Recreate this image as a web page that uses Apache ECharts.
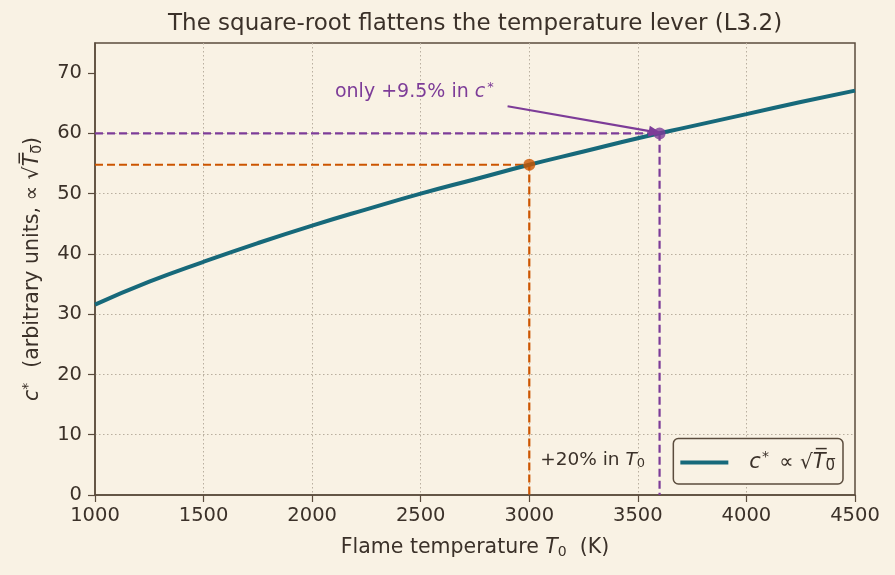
<!DOCTYPE html>
<html>
<head>
<meta charset="utf-8">
<script src="https://cdn.jsdelivr.net/npm/echarts@6/dist/echarts.min.js"></script>
<style>
  html, body { margin: 0; padding: 0; background: #f9f2e4; }
  #chart { width: 895px; height: 575px; }
</style>
</head>
<body>
<div id="chart"></div>
<script>
// values
const temps = [1000, 1250, 1500, 1750, 2000, 2250, 2500, 2750, 3000, 3250, 3500, 3750, 4000, 4250, 4500]
const cStar = [31.6, 35.4, 38.7, 41.8, 44.7, 47.4, 50.0, 52.4, 54.8, 57.0, 59.2, 61.2, 63.2, 65.2, 67.1]
const basePoint = [3000, 54.8]
const hotPoint = [3600, 60.0]
const xTicks = [1000, 1500, 2000, 2500, 3000, 3500, 4000, 4500]
const yTicks = [0, 10, 20, 30, 40, 50, 60, 70]
const arrowFrom = [2900, 64.5]
const arrowTo = [3580, 60.2]

const ink = '#3b3129'
const frame = '#5b4c3d'
const teal = '#17697a'
const orange = '#cc5500'
const purple = '#7d3c98'
const font = 'DejaVu Sans'

const chart = echarts.init(document.getElementById('chart'))

const option = {
  backgroundColor: '#f9f2e4',
  animation: false,
  textStyle: { fontFamily: font, color: ink },
  title: {
    text: 'The square-root flattens the temperature lever (L3.2)',
    left: 163,
    top: 8,
    textStyle: { fontFamily: font, fontSize: 23, fontWeight: 'normal', color: ink }
  },
  grid: {
    left: 95, right: 40, top: 43, bottom: 80,
    show: true, borderColor: frame, borderWidth: 1.5, backgroundColor: 'transparent'
  },
  legend: {
    data: ['curve'],
    right: 52,
    bottom: 91,
    orient: 'vertical',
    padding: [12, 8, 10, 7],
    borderColor: frame,
    borderWidth: 1.5,
    borderRadius: 5,
    backgroundColor: '#f9f2e4',
    itemWidth: 48,
    itemHeight: 4,
    itemGap: 0,
    icon: 'rect',
    formatter: () => '{i|c}{s|*} ∝ √{i|T̅}{b|0̅}',
    textStyle: {
      fontFamily: font,
      fontSize: 20,
      color: ink,
      padding: [0, 0, 0, 16],
      rich: {
        i: { fontStyle: 'italic', fontSize: 21, fontFamily: font, color: ink },
        s: { fontSize: 14, padding: [0, 4, 10, 1], fontFamily: font, color: ink },
        b: { fontSize: 15, padding: [8, 0, 0, 0], fontFamily: font, color: ink }
      }
    }
  },
  xAxis: {
    type: 'value',
    min: 1000,
    max: 4500,
    interval: 500,
    name: 'Flame temperature {i|T}{b|0}  (K)',
    nameLocation: 'middle',
    nameGap: 42,
    nameTextStyle: {
      fontSize: 20.5, color: ink, fontFamily: font,
      rich: {
        i: { fontStyle: 'italic', fontSize: 20.5, color: ink, fontFamily: font },
        b: { fontSize: 14, padding: [8, 0, 0, 0], color: ink, fontFamily: font }
      }
    },
    axisLine: { show: true, lineStyle: { color: frame, width: 1.5 } },
    axisTick: { show: true, length: 7, lineStyle: { color: frame, width: 1.2 }, customValues: xTicks },
    axisLabel: { fontSize: 19.5, color: ink, margin: 11, customValues: xTicks, formatter: v => String(v) },
    splitLine: { show: true, showMinLine: false, showMaxLine: false, lineStyle: { color: '#b9af9f', type: [1.5, 2.5], width: 1 } }
  },
  yAxis: {
    type: 'value',
    min: 0,
    max: 75,
    interval: 10,
    name: '{i|c}{s|*}  (arbitrary units, ∝ √{i|T̅}{b|0̅})',
    nameLocation: 'middle',
    nameRotate: 90,
    nameGap: 50,
    nameTextStyle: {
      fontSize: 20.5, color: ink, fontFamily: font,
      rich: {
        i: { fontStyle: 'italic', fontSize: 20.5, color: ink, fontFamily: font },
        s: { fontSize: 14, padding: [0, 2, 10, 0], color: ink, fontFamily: font },
        b: { fontSize: 14, padding: [8, 0, 0, 0], color: ink, fontFamily: font }
      }
    },
    axisLine: { show: true, lineStyle: { color: frame, width: 1.5 } },
    axisTick: { show: true, length: 7, lineStyle: { color: frame, width: 1.2 }, customValues: yTicks },
    axisLabel: { fontSize: 19.5, color: ink, margin: 13, customValues: yTicks },
    splitLine: { show: true, showMinLine: false, showMaxLine: false, lineStyle: { color: '#b9af9f', type: [1.5, 2.5], width: 1 } }
  },
  series: [
    {
      name: 'orange guide',
      type: 'line',
      data: [[1000, basePoint[1]], basePoint, [basePoint[0], 0]],
      symbol: 'none',
      lineStyle: { color: orange, width: 2.2, type: [8, 4] },
      z: 3
    },
    {
      name: 'purple guide',
      type: 'line',
      data: [[1000, hotPoint[1]], hotPoint, [hotPoint[0], 0]],
      symbol: 'none',
      lineStyle: { color: purple, width: 2.2, type: [8, 4] },
      z: 3,
      markLine: {
        silent: true,
        symbol: ['none', 'triangle'],
        symbolSize: [11, 13],
        label: { show: false },
        lineStyle: { color: purple, width: 2.2, type: 'solid' },
        data: [[{ coord: arrowFrom }, { coord: arrowTo }]]
      }
    },
    {
      name: 'curve',
      type: 'line',
      data: temps.map((t, i) => [t, cStar[i]]),
      smooth: true,
      symbol: 'none',
      color: teal,
      lineStyle: { color: teal, width: 4 },
      z: 4
    },
    {
      name: 'points',
      type: 'scatter',
      data: [
        { value: basePoint, itemStyle: { color: orange } },
        { value: hotPoint, itemStyle: { color: purple } }
      ],
      symbolSize: 12,
      z: 5
    }
  ]
}

chart.setOption(option)

// text annotations placed in data space
const pLabel = chart.convertToPixel('grid', [2105, 66.8])
const tLabel = chart.convertToPixel('grid', [3050, 5.8])
chart.setOption({
  graphic: [
    {
      type: 'text',
      x: pLabel[0], y: pLabel[1],
      style: {
        text: 'only +9.5% in {i|c}{s|*}',
        fill: purple, fontSize: 19, fontFamily: font, verticalAlign: 'middle',
        rich: {
          i: { fontStyle: 'italic', fontSize: 19, fill: purple, fontFamily: font },
          s: { fontSize: 13, padding: [0, 0, 10, 2], fill: purple, fontFamily: font }
        }
      },
      z: 10
    },
    {
      type: 'text',
      x: tLabel[0], y: tLabel[1],
      style: {
        text: '+20% in {i|T}{b|0}',
        fill: ink, fontSize: 18.5, fontFamily: font, verticalAlign: 'middle',
        rich: {
          i: { fontStyle: 'italic', fontSize: 18.5, fill: ink, fontFamily: font },
          b: { fontSize: 13, padding: [8, 0, 0, 0], fill: ink, fontFamily: font }
        }
      },
      z: 10
    }
  ]
})
</script>
</body>
</html>
